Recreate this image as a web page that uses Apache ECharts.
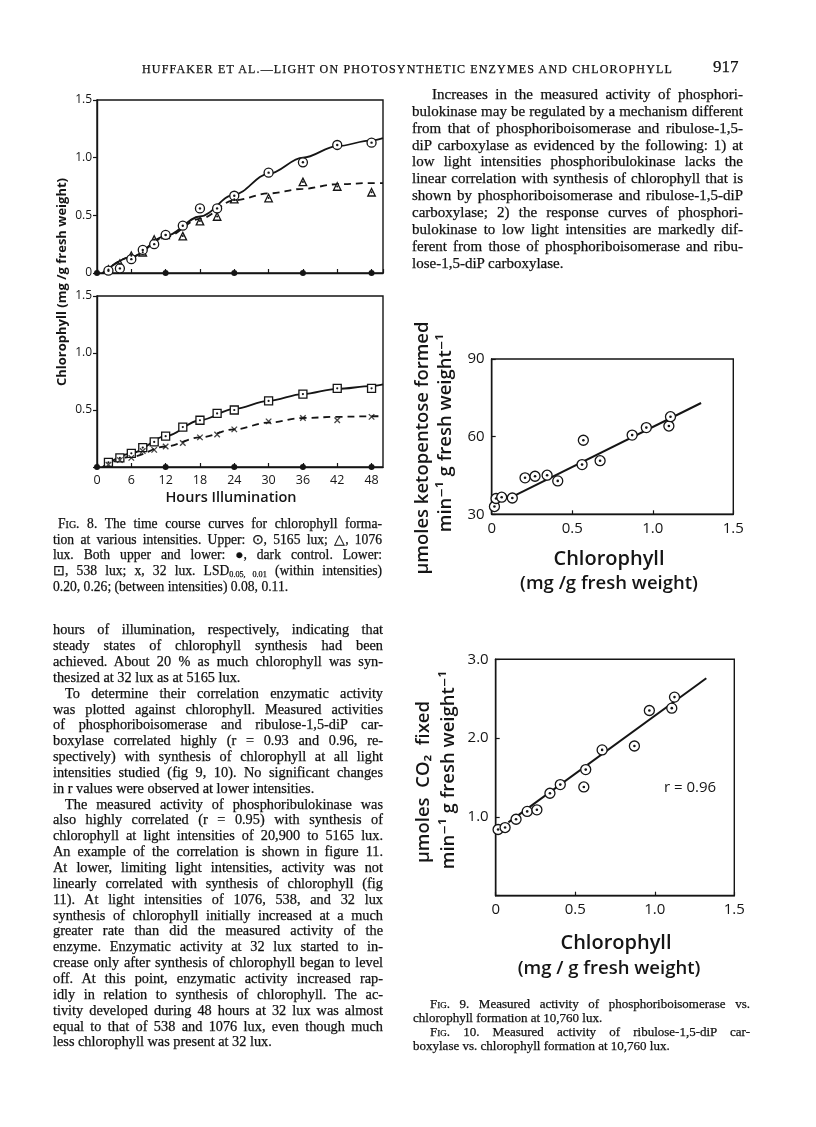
<!DOCTYPE html>
<html><head><meta charset="utf-8">
<script src="https://cdn.jsdelivr.net/npm/echarts@6/dist/echarts.min.js"></script>
<style>
body{margin:0;background:#fff;}
#page{position:relative;width:816px;height:1127px;overflow:hidden;background:#fff}
#chart{position:absolute;left:0;top:0;width:816px;height:1127px}
.ln{position:absolute;white-space:nowrap;font-family:"Liberation Serif","Times New Roman",serif;color:#111;-webkit-text-stroke:0.25px #111}
.sc{font-variant:small-caps}
sub{font-size:60%;vertical-align:-2px;line-height:0}
</style></head>
<body><div id="page"><div id="chart"></div></div>
<script>
// ---------- Fig. 8 data (hours vs chlorophyll, mg/g fresh weight) ----------
const hours = [2,4,6,8,10,12,15,18,21,24,30,36,42,48];
const lux5165 = [0.02,0.04,0.12,0.20,0.25,0.33,0.41,0.56,0.56,0.67,0.87,0.96,1.11,1.13];
const lux1076 = [0.03,0.08,0.15,0.18,0.29,0.33,0.32,0.45,0.49,0.64,0.65,0.79,0.75,0.70];
const lux538  = [0.04,0.08,0.12,0.17,0.22,0.27,0.35,0.41,0.47,0.50,0.58,0.64,0.69,0.69];
const lux32   = [0.02,0.06,0.08,0.14,0.15,0.18,0.21,0.26,0.285,0.33,0.40,0.43,0.41,0.44];
const darkHours = [0,12,24,36,48];
const darkValues = [0,0,0,0,0];
const fitHours = [1,6,12,18,24,30,36,42,48,50];
const fit5165 = [0,0.14,0.32,0.49,0.68,0.86,1.00,1.10,1.15,1.17];
const fit1076 = [0,0.14,0.31,0.47,0.63,0.69,0.73,0.77,0.78,0.78];
const fit538  = [0,0.12,0.27,0.41,0.51,0.58,0.64,0.685,0.71,0.725];
const fit32   = [0,0.09,0.18,0.26,0.33,0.39,0.43,0.44,0.445,0.445];

// ---------- Fig. 9 data ----------
const fig9Chl = [0.017,0.027,0.062,0.128,0.207,0.269,0.344,0.41,0.561,0.569,0.673,0.872,0.96,1.10,1.11];
const fig9Act = [33.0,36.1,36.6,36.3,44.1,44.7,45.1,42.9,49.2,58.6,50.7,60.6,63.5,64.1,67.7];
const fig9LineX = [0.145,1.30];
const fig9LineY = [37.3,73.0];

// ---------- Fig. 10 data ----------
const fig10Chl = [0.015,0.059,0.128,0.198,0.259,0.341,0.406,0.554,0.566,0.669,0.872,0.966,1.107,1.124];
const fig10Act = [0.84,0.865,0.97,1.07,1.09,1.30,1.41,1.38,1.60,1.85,1.90,2.35,2.38,2.52];
const fig10LineX = [0.08,1.324];
const fig10LineY = [0.93,2.76];

// ---------- page text ----------
const headerText = 'HUFFAKER ET AL.—LIGHT ON PHOTOSYNTHETIC ENZYMES AND CHLOROPHYLL';
const pageNumber = '917';
const rightLines = [
 'Increases in the measured activity of phosphori-',
 'bulokinase may be regulated by a mechanism different',
 'from that of phosphoriboisomerase and ribulose-1,5-',
 'diP carboxylase as evidenced by the following: 1) at',
 'low light intensities phosphoribulokinase lacks the',
 'linear correlation with synthesis of chlorophyll that is',
 'shown by phosphoriboisomerase and ribulose-1,5-diP',
 'carboxylase; 2) the response curves of phosphori-',
 'bulokinase to low light intensities are markedly dif-',
 'ferent from those of phosphoriboisomerase and ribu-',
 'lose-1,5-diP carboxylase.'
];
const fig8Caption = [
 '<span class="sc">Fig.</span> 8. The time course curves for chlorophyll forma-',
 'tion at various intensities. Upper: ⊙, 5165 lux; △, 1076',
 'lux. Both upper and lower: ●, dark control. Lower:',
 '⊡, 538 lux; x, 32 lux. LSD<sub>0.05, 0.01</sub> (within intensities)',
 '0.20, 0.26; (between intensities) 0.08, 0.11.'
];
const leftLines = [
 'hours of illumination, respectively, indicating that',
 'steady states of chlorophyll synthesis had been',
 'achieved. About 20 % as much chlorophyll was syn-',
 'thesized at 32 lux as at 5165 lux.',
 'To determine their correlation enzymatic activity',
 'was plotted against chlorophyll. Measured activities',
 'of phosphoriboisomerase and ribulose-1,5-diP car-',
 'boxylase correlated highly (r = 0.93 and 0.96, re-',
 'spectively) with synthesis of chlorophyll at all light',
 'intensities studied (fig 9, 10). No significant changes',
 'in r values were observed at lower intensities.',
 'The measured activity of phosphoribulokinase was',
 'also highly correlated (r = 0.95) with synthesis of',
 'chlorophyll at light intensities of 20,900 to 5165 lux.',
 'An example of the correlation is shown in figure 11.',
 'At lower, limiting light intensities, activity was not',
 'linearly correlated with synthesis of chlorophyll (fig',
 '11). At light intensities of 1076, 538, and 32 lux',
 'synthesis of chlorophyll initially increased at a much',
 'greater rate than did the measured activity of the',
 'enzyme. Enzymatic activity at 32 lux started to in-',
 'crease only after synthesis of chlorophyll began to level',
 'off. At this point, enzymatic activity increased rap-',
 'idly in relation to synthesis of chlorophyll. The ac-',
 'tivity developed during 48 hours at 32 lux was almost',
 'equal to that of 538 and 1076 lux, even though much',
 'less chlorophyll was present at 32 lux.'
];
const fig910Caption = [
 '<span class="sc">Fig.</span> 9. Measured activity of phosphoriboisomerase vs.',
 'chlorophyll formation at 10,760 lux.',
 '<span class="sc">Fig.</span> 10. Measured activity of ribulose-1,5-diP car-',
 'boxylase vs. chlorophyll formation at 10,760 lux.'
];

const page = document.getElementById('page');
function addBlock(lines, o){
  lines.forEach((t,i)=>{
    const d = document.createElement('div');
    d.className = 'ln';
    const ind = (o.indent && o.indent[i]) || 0;
    d.style.left = (o.left + ind) + 'px';
    d.style.fontSize = o.size + 'px';
    d.style.lineHeight = o.size + 'px';
    d.style.top = (o.top + i*o.step - 0.61*o.size) + 'px';
    d.innerHTML = t;
    page.appendChild(d);
    if (!(o.last||[]).includes(i)) {
      const w = d.getBoundingClientRect().width;
      const n = (d.textContent.match(/ /g)||[]).length;
      if (n) d.style.wordSpacing = ((o.width - ind - w)/n) + 'px';
    }
  });
}
addBlock(rightLines, {left:412, width:331, top:96, step:16.9, size:15, indent:{0:20}, last:[10]});
addBlock(fig8Caption, {left:53, width:329, top:525, step:15.8, size:13.6, indent:{0:5}, last:[4]});
addBlock(leftLines, {left:53, width:330, top:631, step:15.85, size:14.3, indent:{4:12,11:12}, last:[3,10,26]});
addBlock(fig910Caption, {left:413, width:337, top:1005, step:14, size:13, indent:{0:17,2:17}, last:[1,3]});
// header
(function(){
  const d = document.createElement('div');
  d.className='ln';
  d.style.left='142px'; d.style.fontSize='12px'; d.style.lineHeight='12px';
  d.style.top=(70-0.61*12)+'px';
  d.textContent = headerText; page.appendChild(d);
  const w = d.getBoundingClientRect().width;
  d.style.letterSpacing = ((673-142-w)/headerText.length)+'px';
  const p = document.createElement('div');
  p.className='ln'; p.style.left='713px'; p.style.fontSize='17px'; p.style.lineHeight='17px';
  p.style.top=(70-0.68*17)+'px'; p.textContent=pageNumber; page.appendChild(p);
})();

// ---------- chart ----------
const black = '#151515';
const SANS = '"Open Sans","DejaVu Sans",sans-serif';
const zip = (a,b)=>a.map((v,i)=>[v,b[i]]);
const gridBase = {show:true, borderColor:black, borderWidth:1.4, backgroundColor:'transparent'};
function xAx(gi, min, max, interval, showLab, fmt, size){
  return {gridIndex:gi, type:'value', min, max, interval,
    axisLine:{show:true, lineStyle:{color:black, width:1.4}},
    axisTick:{show:true, inside:true, length:4, lineStyle:{color:black, width:1.2}},
    splitLine:{show:false},
    axisLabel:{show:showLab, color:black, fontFamily:SANS, fontSize:size, margin:7, showMaxLabel: max===50?false:true, formatter:fmt}};
}
function yAx(gi, min, max, interval, inside, fmt, size){
  return {gridIndex:gi, type:'value', min, max, interval,
    axisLine:{show:true, lineStyle:{color:black, width:1.4}},
    axisTick:{show:true, inside, length:4, lineStyle:{color:black, width:1.2}},
    splitLine:{show:false},
    axisLabel:{color:black, fontFamily:SANS, fontSize:size, margin:inside?7:5, formatter:fmt}};
}
function hollow(ai, data, symbol, size){
  return {type:'scatter', xAxisIndex:ai, yAxisIndex:ai, data, symbol, symbolSize:size, silent:true, z:4,
    itemStyle:{color:'#fff', borderColor:black, borderWidth:1.3, opacity:1}};
}
function centerDot(ai, data, size){
  return {type:'scatter', xAxisIndex:ai, yAxisIndex:ai, data, symbol:'circle', symbolSize:size||2.4, silent:true, z:5,
    itemStyle:{color:black, opacity:1}};
}
function curve(ai, data, dashed, w){
  return {type:'line', xAxisIndex:ai, yAxisIndex:ai, data, smooth:0.35, smoothMonotone:'x', symbol:'none', silent:true, z:3,
    lineStyle:{color:black, width:w||1.8, type: dashed?[7,5]:'solid'}};
}
const fmt1 = v => v===0 ? '0' : v.toFixed(1);
const fmtNoZero = v => v===0 ? '' : v.toFixed(1);

const chart = echarts.init(document.getElementById('chart'), null, {renderer:'canvas'});
chart.setOption({
  animation:false,
  backgroundColor:'transparent',
  grid:[
    Object.assign({left:97, top:100, width:286, height:173}, gridBase),
    Object.assign({left:97, top:296, width:286, height:171}, gridBase),
    Object.assign({left:491.7, top:359, width:241.6, height:155.3}, gridBase),
    Object.assign({left:495.7, top:659.3, width:238.6, height:236.4}, gridBase)
  ],
  xAxis:[
    xAx(0, 0, 50, 6, false, null, 12),
    xAx(1, 0, 50, 6, true, v=>String(v), 12.5),
    xAx(2, 0, 1.5, 0.5, true, fmt1, 15),
    xAx(3, 0, 1.5, 0.5, true, fmt1, 15)
  ],
  yAxis:[
    yAx(0, 0, 1.5, 0.5, false, fmt1, 12),
    yAx(1, 0, 1.5, 0.5, false, fmtNoZero, 12),
    yAx(2, 30, 90, 30, true, v=>String(v), 15),
    yAx(3, 0, 3, 1, true, fmtNoZero, 15)
  ],
  series:[
    // upper panel
    curve(0, zip(fitHours, fit5165), false),
    curve(0, zip(fitHours, fit1076), true),
    hollow(0, zip(hours, lux1076), 'triangle', 7.5),
    centerDot(0, zip(hours, lux1076), 2),
    hollow(0, zip(hours, lux5165), 'circle', 9),
    centerDot(0, zip(hours, lux5165)),
    centerDot(0, zip(darkHours, darkValues), 6),
    // lower panel
    curve(1, zip(fitHours, fit538), false),
    curve(1, zip(fitHours, fit32), true),
    hollow(1, zip(hours, lux538), 'rect', 8),
    centerDot(1, zip(hours, lux538), 2.2),
    {type:'scatter', xAxisIndex:1, yAxisIndex:1, data:zip(hours, lux32), symbol:'path://M0,0L10,10M10,0L0,10', symbolSize:5.5, silent:true, z:5,
      itemStyle:{color:'rgba(0,0,0,0)', borderColor:black, borderWidth:1.3}},
    centerDot(1, zip(darkHours, darkValues), 6),
    // Fig 9
    {type:'line', xAxisIndex:2, yAxisIndex:2, data:zip(fig9LineX, fig9LineY), symbol:'none', silent:true, z:3, lineStyle:{color:black, width:2}},
    hollow(2, zip(fig9Chl, fig9Act), 'circle', 10),
    centerDot(2, zip(fig9Chl, fig9Act), 2.6),
    // Fig 10
    {type:'line', xAxisIndex:3, yAxisIndex:3, data:zip(fig10LineX, fig10LineY), symbol:'none', silent:true, z:3, lineStyle:{color:black, width:2}},
    hollow(3, zip(fig10Chl, fig10Act), 'circle', 10),
    centerDot(3, zip(fig10Chl, fig10Act), 2.6)
  ],
  graphic:[
    {type:'text', x:62, y:282, rotation:Math.PI/2, style:{text:'Chlorophyll (mg /g fresh weight)', fontFamily:SANS, fontWeight:'bold', fontSize:13, fill:black, align:'center', verticalAlign:'middle'}},
    {type:'text', x:231, y:498, style:{text:'Hours Illumination', fontFamily:SANS, fontWeight:600, fontSize:14.5, fill:black, align:'center', verticalAlign:'middle'}},
    {type:'text', x:609, y:559, style:{text:'Chlorophyll', fontFamily:SANS, fontWeight:600, fontSize:20, fill:black, align:'center', verticalAlign:'middle'}},
    {type:'text', x:609, y:584, style:{text:'(mg /g fresh weight)', fontFamily:SANS, fontWeight:600, fontSize:18.5, fill:black, align:'center', verticalAlign:'middle'}},
    {type:'text', x:423, y:448, rotation:Math.PI/2, style:{text:'μmoles ketopentose formed', fontFamily:SANS, fontWeight:600, fontSize:18.5, fill:black, align:'center', verticalAlign:'middle'}},
    {type:'text', x:446, y:433, rotation:Math.PI/2, style:{text:'min⁻¹ g fresh weight⁻¹', fontFamily:SANS, fontWeight:600, fontSize:18.5, fill:black, align:'center', verticalAlign:'middle'}},
    {type:'text', x:616, y:943, style:{text:'Chlorophyll', fontFamily:SANS, fontWeight:600, fontSize:20, fill:black, align:'center', verticalAlign:'middle'}},
    {type:'text', x:609, y:969, style:{text:'(mg / g fresh weight)', fontFamily:SANS, fontWeight:600, fontSize:18.5, fill:black, align:'center', verticalAlign:'middle'}},
    {type:'text', x:424, y:782, rotation:Math.PI/2, style:{text:'μmoles  CO₂  fixed', fontFamily:SANS, fontWeight:600, fontSize:18.5, fill:black, align:'center', verticalAlign:'middle'}},
    {type:'text', x:449, y:770, rotation:Math.PI/2, style:{text:'min⁻¹ g fresh weight⁻¹', fontFamily:SANS, fontWeight:600, fontSize:18.5, fill:black, align:'center', verticalAlign:'middle'}},
    {type:'text', x:690, y:788, style:{text:'r = 0.96', fontFamily:SANS, fontSize:15, fill:black, align:'center', verticalAlign:'middle'}}
  ]
});
</script>
</body></html>
